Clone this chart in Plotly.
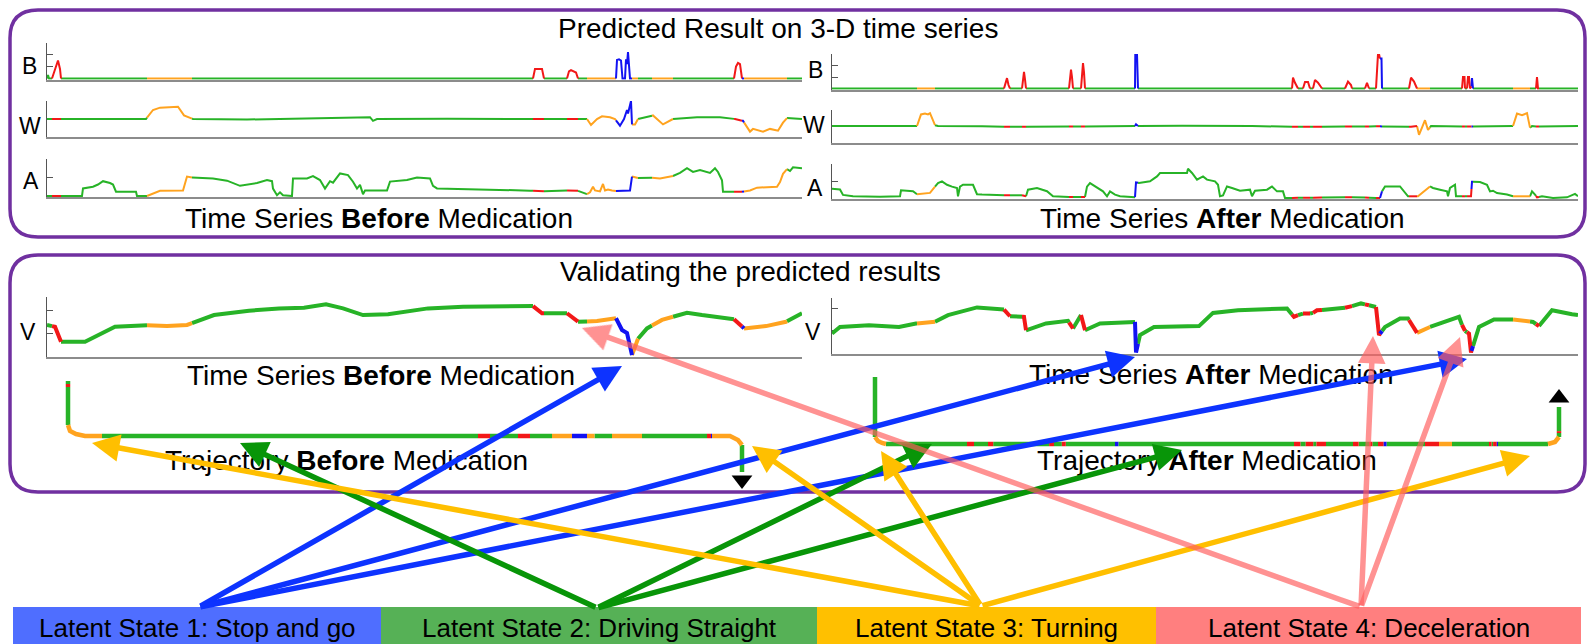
import bisect
import plotly.graph_objects as go

W, H = 1591, 644
FONT = "Liberation Sans, Arial, Helvetica, sans-serif"

# ---------------- colours ----------------
LINE_COLORS = {1: "#1212F2", 2: "#27B327", 3: "#FFA31F", 4: "#F21818"}
BOX_COLORS = {1: "#4F6EFF", 2: "#56B156", 3: "#FFC000", 4: "#FF7F7F"}
ARROW_COLORS = {1: "#0D33FF", 2: "#089508", 3: "#FFBF00", 4: "rgba(255,95,95,0.68)"}
PURPLE = "#7030A0"

# ---------------- latent states ----------------
state_labels = {1: "Latent State 1: Stop and go", 2: "Latent State 2: Driving Straight",
                3: "Latent State 3: Turning", 4: "Latent State 4: Deceleration"}

before_cp = [0, 5, 14, 100, 145, 486, 497, 520, 531, 540, 569, 585, 591, 605, 626, 687, 695, 697, 740]
before_st = [2, 4, 2, 3, 2, 4, 2, 4, 2, 3, 1, 3, 2, 3, 2, 4, 1, 3, 2]

after_cp = [0, 85, 103, 172, 178, 190, 194, 237, 241, 249, 253, 303, 306, 460, 466, 471, 478, 481, 490, 513,
            520, 533, 537, 544, 548, 550, 577, 585, 598, 630, 633, 635, 639.5, 641, 681, 698, 704, 707]
after_st = [2, 3, 2, 4, 2, 4, 2, 4, 2, 4, 2, 1, 2, 4, 2, 4, 2, 4, 2, 4,
            2, 4, 2, 4, 1, 2, 4, 3, 2, 4, 2, 4, 1, 2, 3, 2, 4, 2]

# ---------------- time series BEFORE medication ----------------
B_before_t = [0, 1, 2, 5, 9, 11, 13, 14, 100, 145, 486, 488, 490, 495, 497, 520, 522, 524, 529, 531,
              540, 569, 570, 572, 574, 575.5, 578, 579, 580, 581, 583, 586, 591, 605, 626, 687, 689, 691, 693, 695,
              697, 740, 755]
B_before = [0, 0.3, 0, 0, 1.0, 1.5, 0.8, 0, 0, 0, 0, 0.8, 0.8, 0.8, 0, 0, 0.6, 0.7, 0.5, 0,
            0, 0, 1.55, 1.6, 1.5, 0, 0, 1.6, 1.2, 2.2, 0, 0, 0, 0, 0, 0, 1.0, 1.3, 1.2, 0,
            0, 0, 0]

W_before_t = [0, 6, 14, 60, 99, 106, 113, 131, 137, 140, 146, 200, 260, 323, 326, 330, 400, 486, 496, 519,
              530, 540, 544, 550, 555, 563, 568, 573, 577, 580, 581, 584, 585, 588, 591, 600, 606, 616, 626, 650,
              673, 688, 695, 696, 703, 706, 716, 723, 731, 736, 740, 755]
W_before = [0, 0, 0, 0.02, 0, 0.5, 0.63, 0.68, 0.2, 0.12, 0, -0.03, 0.02, 0.1, -0.1, 0, 0.02, 0, 0, 0,
            0, 0, -0.33, 0, 0.15, 0.1, 0, -0.37, 0, 0.5, 0.3, 1.0, -0.3, -0.3, 0, 0.1, 0.2, -0.3, 0, 0.1,
            0.1, 0, -0.1, -0.1, -0.7, -0.55, -0.7, -0.55, -0.65, -0.2, 0.05, 0]

A_before_t = [0, 6, 14, 35, 36, 46, 51, 56, 63, 66, 69, 89, 90, 100, 110, 113, 136, 140, 145, 166,
              180, 193, 210, 220, 225, 226, 230, 233, 236, 245, 246, 260, 266, 273, 278, 283, 286, 293, 301, 306,
              310, 313, 316, 318, 320, 340, 343, 360, 370, 383, 386, 390, 483, 496, 519, 530, 540, 543, 546, 548,
              553, 556, 558, 561, 565, 569, 583, 585, 590, 603, 613, 626, 633, 640, 646, 653, 663, 668, 671, 675,
              676, 688, 695, 703, 710, 730, 733, 736, 740, 743, 746, 755]
A_before = [0, 0, 0, 0, 0.41, 0.5, 0.62, 0.8, 0.7, 0.62, 0.23, 0.23, 0, 0, 0.2, 0.28, 0.3, 1.05, 1.0, 0.95,
            0.83, 0.55, 0.7, 0.86, 0.8, 0.4, 0.04, 0.2, 0.04, 0, 0.95, 0.95, 1.08, 0.86, 0.4, 0.8, 0.72, 1.22, 1.13, 0.77,
            0.4, 0.6, 0.1, 0.3, 0.3, 0.3, 0.78, 0.86, 1.0, 0.95, 0.55, 0.41, 0.29, 0.25, 0.3, 0.3, 0.1, 0.2, 0.5, 0.3,
            0.25, 0.65, 0.3, 0.35, 0.3, 0.27, 0.3, 1.05, 0.97, 1.0, 0.95, 1.08, 1.25, 1.5, 1.3, 1.4, 1.25, 1.5, 1.3, 0.85,
            0.23, 0.23, 0.23, 0.3, 0.45, 0.5, 0.75, 1.2, 1.45, 1.35, 1.55, 1.5]

V_before_t = [0, 8, 14, 38, 68, 92, 120, 140, 167, 202, 232, 257, 279, 296, 316, 341, 381, 416, 486, 495,
              520, 530, 550, 569, 575, 580, 585, 590, 600, 615, 640, 655, 675, 687, 697, 719, 739, 755]
V_before = [1.35, 1.27, 0.62, 0.62, 1.27, 1.35, 1.3, 1.35, 1.78, 1.97, 2.07, 2.1, 2.25, 2.07, 1.78, 1.82, 2.07, 2.14, 2.17, 1.86,
            1.86, 1.49, 1.52, 1.64, 1.13, 1.0, 0.04, 0.7, 1.2, 1.57, 1.88, 1.78, 1.65, 1.6, 1.2, 1.3, 1.49, 1.86]

# ---------------- time series AFTER medication ----------------
B_after_t = [0, 85, 103, 172, 173.5, 175, 176.5, 178, 190, 191, 192, 193, 194, 237, 238, 239, 240, 241, 249, 250,
             251, 252, 253, 303, 303.3, 305, 305.3, 460, 461, 463, 465, 466, 471, 473, 476, 478, 481, 483, 486, 490,
             513, 516, 519, 520, 533, 535, 537, 544, 545, 546, 547, 548, 549.5, 550, 577, 579, 582, 585, 630, 631,
             632.5, 633, 635, 636, 637, 638, 639.5, 640, 641, 704, 705, 706, 746]
B_after = [0, 0, 0, 0, 0.5, 0.9, 0.3, 0, 0, 1.0, 1.45, 0.8, 0, 0, 1.0, 1.65, 1.0, 0, 0, 1.5,
           2.2, 1.4, 0, 0, 3.0, 3.0, 0, 0, 0.95, 0.5, 0.2, 0, 0, 0.56, 0.56, 0, 0, 0.75, 0.5, 0,
           0, 0.6, 0.3, 0, 0, 0.5, 0, 0, 2.0, 3.0, 3.0, 2.6, 2.6, 0, 0, 0.95, 0.6, 0, 0, 1.0,
           1.0, 0, 0, 1.0, 1.0, 0, 0.2, 0.9, 0, 0, 1.0, 0, 0]

W_after_t = [0, 40, 85, 89, 93, 96, 98, 103, 106, 150, 175, 192, 239, 251, 303, 304, 306, 350, 420, 463,
             474, 485, 516, 535, 546, 579, 585, 587, 590, 593, 596, 599, 632, 640, 681, 685, 690, 695, 698, 700,
             705, 746]
W_after = [0, 0.02, 0, 0.7, 0.75, 0.7, 0.78, 0.05, 0, -0.02, -0.05, -0.04, -0.03, -0.03, 0, 0.1, 0, 0.02, 0, -0.05,
           -0.04, -0.04, -0.03, -0.03, -0.02, -0.05, 0, -0.53, -0.1, 0.35, -0.24, 0, -0.03, -0.03, 0, 0.75, 0.65, 0.78, -0.1, 0,
           -0.03, 0]

A_after_t = [0, 8, 11, 21, 48, 68, 69, 81, 85, 98, 103, 106, 110, 115, 120, 125, 126, 128, 131, 141,
             145, 150, 173, 190, 194, 196, 205, 215, 221, 237, 253, 255, 258, 265, 271, 275, 278, 283, 288, 303,
             304, 307, 318, 325, 328, 341, 355, 356, 360, 365, 371, 375, 383, 386, 388, 391, 395, 400, 408, 418,
             420, 423, 435, 440, 445, 451, 453, 525, 540, 548, 550, 553, 568, 573, 576, 586, 598, 601, 608, 615,
             616, 618, 623, 624, 639, 640, 648, 655, 658, 661, 665, 675, 681, 698, 700, 703, 705, 710, 721, 735,
             743, 746]
A_after = [0.55, 0.5, 0.18, 0.1, 0.08, 0.1, 0.45, 0.4, 0.22, 0.3, 0.67, 0.88, 0.98, 0.78, 0.67, 0.59, 0.1, 0.67, 0.78, 0.78,
           0.22, 0.2, 0.16, 0.16, 0.1, 0.49, 0.59, 0.4, 0.1, 0.06, 0.06, 0.67, 0.88, 0.59, 0.39, 0.1, 0.39, 0.2, 0.1, 0.05,
           0.92, 0.88, 0.98, 1.27, 1.47, 1.47, 1.47, 1.72, 1.47, 1.08, 1.27, 1.08, 0.98, 0.78, 0.1, 0.15, 0.68, 0.59, 0.43, 0.49,
           0.1, 0.43, 0.49, 0.68, 0.39, 0.39, 0, 0.05, 0, 0, 0.39, 0.68, 0.68, 0.29, 0.1, 0.1, 0.68, 0.59, 0.49, 0.39,
           0.1, 0.59, 0.78, 0.1, 0.1, 0.96, 0.94, 0.78, 0.39, 0.43, 0.29, 0.2, 0.1, 0.1, 0.39, 0.2, 0.04, 0.1, 0, 0.04,
           0.24, 0.1]

V_after_t = [0, 8, 37, 67, 84, 101, 116, 145, 172, 177, 192, 194, 214, 236, 241, 249, 253, 268, 303, 304,
             308, 322, 367, 381, 406, 455, 462, 470, 480, 485, 509, 517, 529, 544, 547, 553, 568, 576, 585, 598,
             627, 632, 637, 639, 647, 662, 681, 701, 707, 720, 740, 746]
V_after = [0.86, 1.16, 1.24, 1.16, 1.32, 1.35, 1.7, 2.05, 1.95, 1.65, 1.62, 1.01, 1.32, 1.44, 1.09, 1.7, 1.01, 1.32, 1.39, 0,
           0.79, 1.16, 1.2, 1.8, 1.92, 2.0, 1.62, 1.77, 1.77, 1.92, 2.0, 2.07, 2.23, 2.07, 0.79, 1.16, 1.55, 1.55, 0.89, 1.16,
           1.62, 1.01, 0.86, 0, 1.16, 1.5, 1.5, 1.39, 1.2, 1.92, 1.74, 1.7]

# ---------------- trajectories (local east / north, with time stamps) ----------------
traj_before_t = [0, 5, 14, 100, 112, 122, 132, 145, 486, 497, 520, 531, 540, 569, 585, 605, 626, 687, 697, 715, 728, 740, 755]
traj_before_e = [0, 0, 0, 0, 2, 8, 17, 34, 410, 422, 450, 462, 484, 504, 519, 544, 574, 639, 644, 662, 670, 674, 674]
traj_before_n = [0, -3, -6, -44, -50, -53, -55, -55, -55, -55, -55, -55, -55, -55, -55, -55, -55, -55, -55, -55, -59, -64, -91]

traj_after_t = [0, 85, 91, 97, 103, 172, 190, 240, 303, 460, 490, 513, 544, 577, 585, 598, 630, 641, 681, 690, 698, 704, 746]
traj_after_e = [0, 0, 3, 7, 11, 92, 113, 178, 240, 419, 451, 478, 503, 550, 564, 577, 614, 623, 673, 680, 684, 684, 684]
traj_after_n = [0, -60, -64, -66, -67, -67, -67, -67, -67, -67, -67, -67, -67, -67, -67, -67, -67, -67, -67, -65, -60, -56, -30]

# ---------------- arrows from latent-state boxes ----------------
arrow_origin = {1: (199, 607), 2: (597, 608), 3: (981, 606), 4: (1361, 607)}
arrow_targets = {
    1: [(622, 366), (1135, 357), (1467, 359)],
    2: [(240, 443), (932, 444), (1182, 450)],
    3: [(92, 443), (752, 446), (881, 451), (1530, 456)],
    4: [(582, 328), (1373, 336), (1460, 337)],
}
state_box_x = {1: (13, 381), 2: (381, 817), 3: (817, 1156), 4: (1156, 1581)}


# ======================================================================
def state_at(t, cps, sts):
    i = bisect.bisect_right(cps, t) - 1
    return sts[max(i, 0)]


def colour_runs(t, x, y, cps, sts):
    runs = []
    for i in range(len(t) - 1):
        t0, t1 = t[i], t[i + 1]
        cuts = [t0] + [c for c in cps if t0 < c < t1] + [t1]
        for a, b in zip(cuts[:-1], cuts[1:]):
            fa = (a - t0) / (t1 - t0)
            fb = (b - t0) / (t1 - t0)
            xa, xb = x[i] + fa * (x[i + 1] - x[i]), x[i] + fb * (x[i + 1] - x[i])
            ya, yb = y[i] + fa * (y[i + 1] - y[i]), y[i] + fb * (y[i + 1] - y[i])
            s = state_at((a + b) / 2, cps, sts)
            if runs and runs[-1][0] == s:
                runs[-1][1].append(xb)
                runs[-1][2].append(yb)
            else:
                runs.append((s, [xa, xb], [ya, yb]))
    return runs


def add_coloured(fig, runs, xa, ya, width):
    for s in (2, 3, 4, 1):
        xs, ys = [], []
        for st, rx, ry in runs:
            if st == s:
                xs += rx + [None]
                ys += ry + [None]
        if xs:
            fig.add_trace(go.Scatter(x=xs, y=ys, mode="lines", xaxis=xa, yaxis=ya,
                                     line=dict(color=LINE_COLORS[s], width=width),
                                     hoverinfo="skip", showlegend=False))


fig = go.Figure()
layout = dict(width=W, height=H, margin=dict(l=0, r=0, t=0, b=0),
              paper_bgcolor="white", plot_bgcolor="rgba(0,0,0,0)",
              hovermode=False, showlegend=False,
              font=dict(family=FONT, color="black"))

# overlay frame (pixel-like) for boxes, text and arrows
fig.add_trace(go.Scatter(x=[0, W], y=[0, H], mode="markers", marker=dict(opacity=0),
                         xaxis="x", yaxis="y", hoverinfo="skip", showlegend=False))
layout["xaxis"] = dict(domain=[0, 1], range=[0, W], visible=False, fixedrange=True)
layout["yaxis"] = dict(domain=[0, 1], range=[H, 0], visible=False, fixedrange=True)

panels = [
    # t, values, states, x-pixel span, t-range, y-range, pixel of 0, px/unit, ticks, line width
    (B_before_t, B_before, before_cp, before_st, (47, 802), (0, 755), (-0.1, 3.0), 78.5, 12.0, [1, 2, 3], 2.0),
    (W_before_t, W_before, before_cp, before_st, (47, 802), (0, 755), (-1.0, 1.0), 119.0, 18.0, [0, 1], 2.0),
    (A_before_t, A_before, before_cp, before_st, (47, 802), (0, 755), (-0.06, 2.0), 196.0, 18.5, [1, 2], 2.0),
    (B_after_t, B_after, after_cp, after_st, (832, 1578), (0, 746), (-0.1, 3.0), 88.5, 11.5, [1, 2, 3], 2.0),
    (W_after_t, W_after, after_cp, after_st, (832, 1578), (0, 746), (-1.0, 1.0), 126.0, 16.5, [0, 1], 2.0),
    (A_after_t, A_after, after_cp, after_st, (832, 1578), (0, 746), (-0.06, 2.0), 198.0, 17.0, [1, 2], 2.0),
    (V_before_t, V_before, before_cp, before_st, (47, 802), (0, 755), (-0.05, 2.57), 356.0, 23.0, [1, 2], 4.0),
    (V_after_t, V_after, after_cp, after_st, (832, 1578), (0, 746), (-0.05, 2.5), 352.5, 22.0, [1, 2], 4.0),
]

for i, (t, v, cps, sts, xpx, tr, yr, p0, k, ticks, lw) in enumerate(panels, start=2):
    xa, ya = f"x{i}", f"y{i}"
    add_coloured(fig, colour_runs(t, t, v, cps, sts), xa, ya, lw)
    ptop = p0 - k * yr[1]
    pbot = p0 - k * yr[0]
    layout[f"xaxis{i}"] = dict(domain=[xpx[0] / W, xpx[1] / W], range=list(tr), anchor=ya,
                               showline=True, linecolor="#8C8C8C", linewidth=1.8,
                               ticks="", showticklabels=False, showgrid=False, zeroline=False,
                               layer="below traces", fixedrange=True)
    layout[f"yaxis{i}"] = dict(domain=[1 - pbot / H, 1 - ptop / H], range=list(yr), anchor=xa,
                               showline=True, linecolor="#555555", linewidth=1.3,
                               ticks="inside", ticklen=6, tickwidth=1.3, tickcolor="#555555",
                               tickvals=ticks, showticklabels=False, showgrid=False, zeroline=False,
                               layer="below traces", fixedrange=True)

# trajectories
traj = [
    (traj_before_t, traj_before_e, traj_before_n, before_cp, before_st, (68, 381), "triangle-down", -8),
    (traj_after_t, traj_after_e, traj_after_n, after_cp, after_st, (875, 377), "triangle-up", 9),
]
for j, (t, e, n, cps, sts, org, sym, off) in enumerate(traj, start=10):
    xa, ya = f"x{j}", f"y{j}"
    add_coloured(fig, colour_runs(t, e, n, cps, sts), xa, ya, 4.5)
    fig.add_trace(go.Scatter(x=[e[-1]], y=[n[-1] + off], mode="markers", xaxis=xa, yaxis=ya,
                             marker=dict(symbol=sym, size=18, color="black"),
                             hoverinfo="skip", showlegend=False))
    layout[f"xaxis{j}"] = dict(domain=[0, 1], range=[-org[0], W - org[0]], visible=False, fixedrange=True)
    layout[f"yaxis{j}"] = dict(domain=[0, 1], range=[-(H - org[1]), org[1]], visible=False, fixedrange=True)


def rounded(x0, y0, x1, y1, r):
    return (f"M{x0 + r},{y0} L{x1 - r},{y0} Q{x1},{y0} {x1},{y0 + r} L{x1},{y1 - r} "
            f"Q{x1},{y1} {x1 - r},{y1} L{x0 + r},{y1} Q{x0},{y1} {x0},{y1 - r} "
            f"L{x0},{y0 + r} Q{x0},{y0} {x0 + r},{y0} Z")


shapes = [
    dict(type="path", path=rounded(10, 10, 1585, 237, 28), xref="x", yref="y",
         line=dict(color=PURPLE, width=3.5), layer="below"),
    dict(type="path", path=rounded(10, 255, 1585, 492, 28), xref="x", yref="y",
         line=dict(color=PURPLE, width=3.5), layer="below"),
]
for s, (x0, x1) in state_box_x.items():
    shapes.append(dict(type="rect", x0=x0, x1=x1, y0=607, y1=H + 2, xref="x", yref="y",
                       fillcolor=BOX_COLORS[s], line=dict(width=0), layer="below"))
layout["shapes"] = shapes

ann = []


def txt(x, y, s, size):
    ann.append(dict(x=x, y=y, xref="x", yref="y", text=s, showarrow=False,
                    xanchor="center", yanchor="middle", font=dict(size=size, family=FONT, color="black")))


txt(778, 28, "Predicted Result on 3-D time series", 28)
txt(379, 218, "Time Series <b>Before</b> Medication", 28)
txt(1222, 218, "Time Series <b>After</b> Medication", 28)
txt(750, 271, "Validating the predicted results", 28)
txt(381, 375, "Time Series <b>Before</b> Medication", 28)
txt(1211, 374, "Time Series <b>After</b> Medication", 28)
txt(346, 460, "Trajectory <b>Before</b> Medication", 28)
txt(1207, 460, "Trajectory <b>After</b> Medication", 28)
for lab, x, y in [("B", 29, 66), ("W", 30, 126), ("A", 31, 181), ("B", 815, 70),
                  ("W", 814, 125), ("A", 815, 188), ("V", 28, 332), ("V", 813, 332)]:
    txt(x, y, lab, 23)
for s, (x0, x1) in state_box_x.items():
    txt((x0 + x1) / 2, 628, state_labels[s], 26)

for s in (1, 2, 3, 4):
    ox, oy = arrow_origin[s]
    for hx, hy in arrow_targets[s]:
        ann.append(dict(x=hx, y=hy, xref="x", yref="y", ax=ox, ay=oy, axref="x", ayref="y",
                        text="", showarrow=True, arrowhead=2, arrowsize=1.0, arrowwidth=5.5,
                        arrowcolor=ARROW_COLORS[s], standoff=0, startstandoff=0))
layout["annotations"] = ann

fig.update_layout(**layout)
fig.write_html("out.html", config={"displayModeBar": False},
               post_script="document.body.style.margin='0px';document.body.style.overflow='hidden';")
